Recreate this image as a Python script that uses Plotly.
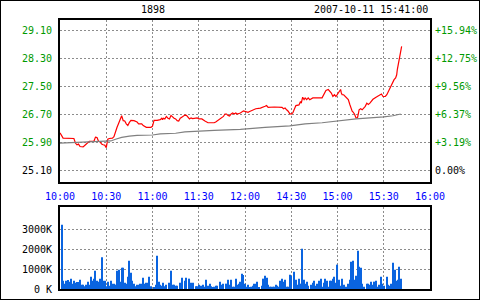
import plotly.graph_objects as go

# ---------------- data ----------------
base_price = 25.10

price_min = [0, 1, 2, 9, 10, 11, 12, 13, 14, 15, 16, 17, 18, 19, 22, 23, 24, 25, 26, 27, 28, 29, 30, 31, 32, 34, 35,
             36, 37, 38, 39, 40, 41, 42, 43, 44, 45, 46, 48, 49, 50, 51, 53, 54, 55, 56, 59, 60, 61, 62, 63, 65, 66,
             66.5, 67, 68, 69, 70, 71, 72, 73, 74, 75, 76, 77, 78, 79, 80, 81, 82, 83, 84, 85, 86, 89, 90, 92, 93,
             94, 96, 98, 99, 100, 101, 102, 103, 104, 105, 106, 107, 108, 109, 110, 111, 112, 113, 114, 115, 117,
             119, 121, 122, 123, 124, 125, 127, 130, 132, 133, 134, 135, 139, 141, 143, 144, 145, 146, 147, 148,
             149, 150, 151, 152, 153, 155, 156, 156.5, 157.4, 158.3, 159, 160, 161, 162, 163, 164, 170, 171, 172.5,
             174, 175, 176, 177, 178, 179, 180, 181, 182, 182.5, 183, 184, 185, 186, 187, 188, 189, 189.5, 190, 191,
             192, 193, 193.5, 194, 195, 196, 197, 198, 199, 200, 201, 203, 205, 206, 207, 208.5, 209.5, 211, 212,
             213, 214, 215, 216, 216.7, 217.7, 218.4, 218.8, 219.5, 220, 220.5, 221, 221.6]
price_val = [26.16, 26.10, 26.01, 26.00, 25.87, 25.82, 25.84, 25.77, 25.76, 25.76, 25.80, 25.84, 25.86, 25.92, 25.92,
             26.04, 26.03, 25.92, 25.90, 25.84, 25.82, 25.81, 25.74, 25.98, 26.00, 26.01, 26.05, 26.21, 26.32, 26.43,
             26.52, 26.65, 26.51, 26.50, 26.42, 26.37, 26.46, 26.52, 26.51, 26.49, 26.47, 26.42, 26.42, 26.37, 26.34,
             26.32, 26.32, 26.35, 26.52, 26.51, 26.52, 26.54, 26.58, 26.54, 26.58, 26.56, 26.63, 26.58, 26.56, 26.66,
             26.61, 26.58, 26.56, 26.51, 26.50, 26.58, 26.61, 26.63, 26.67, 26.66, 26.59, 26.56, 26.59, 26.57, 26.59,
             26.56, 26.56, 26.52, 26.50, 26.45, 26.45, 26.43, 26.45, 26.47, 26.50, 26.52, 26.56, 26.59, 26.63, 26.70,
             26.70, 26.66, 26.64, 26.70, 26.73, 26.70, 26.73, 26.70, 26.73, 26.79, 26.77, 26.75, 26.77, 26.79, 26.82,
             26.85, 26.87, 26.89, 26.92, 26.94, 26.89, 26.90, 26.89, 26.90, 26.89, 26.85, 26.87, 26.82, 26.78, 26.71,
             26.70, 26.73, 26.82, 26.94, 26.96, 27.06, 27.01, 27.18, 27.11, 27.16, 27.11, 27.16, 27.11, 27.13, 27.16,
             27.16, 27.25, 27.37, 27.40, 27.35, 27.30, 27.20, 27.25, 27.20, 27.27, 27.37, 27.40, 27.30, 27.25, 27.25,
             27.20, 27.16, 27.11, 26.97, 26.82, 26.78, 26.76, 26.70, 26.59, 26.60, 26.70, 26.82, 26.85, 26.82, 26.87,
             26.92, 27.01, 26.97, 27.01, 27.12, 27.18, 27.20, 27.23, 27.27, 27.20, 27.20, 27.25, 27.35, 27.40, 27.54,
             27.63, 27.68, 27.73, 27.82, 27.97, 28.11, 28.25, 28.30, 28.49, 28.63]

avg_min = [0, 10, 20, 30, 33, 36, 40, 45, 50, 60, 65, 75, 81, 100, 117, 133, 149, 159, 170, 192, 200, 210, 216, 221]
avg_val = [25.87, 25.89, 25.90, 25.91, 25.93, 25.98, 26.03, 26.07, 26.09, 26.10, 26.13, 26.15, 26.19, 26.23, 26.26,
           26.32, 26.36, 26.42, 26.45, 26.56, 26.58, 26.62, 26.65, 26.70]

vol_min = [1, 2, 3, 4, 5, 6, 7, 8, 9, 10, 11, 12, 13, 14, 15, 16, 17, 18, 19, 20, 21, 22, 23, 24, 25, 26, 27, 28, 29,
           30, 31, 32, 33, 34, 35, 36, 37, 38, 39, 40, 41, 42, 43, 44, 45, 46, 47, 48, 49, 50, 51, 52, 53, 54, 55, 56,
           57, 58, 59, 61, 62, 63, 64, 65, 66, 67, 68, 69, 71, 72, 73, 74, 75, 76, 78, 79, 81,
           82, 84, 85, 86, 88, 89, 90, 91, 92, 93, 94, 95, 96, 97, 98, 99, 100, 101, 102, 104, 105, 106, 108, 109,
           110, 111, 112, 113, 114, 115, 116, 117, 118, 119, 120, 121, 122, 123, 124, 125, 126, 127, 128, 129, 131,
           132, 133, 134, 135, 136, 137, 138, 139, 140, 141, 142, 143, 144, 145, 146, 147, 148, 149, 150, 152, 153,
           154, 155, 156, 157, 158, 159, 160, 161,
           163, 164, 165, 166, 167, 168, 169, 170, 171, 172, 173, 174, 175, 176, 177, 178, 179, 180, 181, 182, 183,
           184, 185, 186, 187, 188, 189, 190, 191, 192, 193, 194, 195, 196, 197, 199, 200, 201, 202, 203, 204, 205,
           206, 207, 208, 209, 210, 212, 213, 214, 215, 216, 217, 218, 219, 220, 221]
vol_k = [3217, 417, 267, 417, 450, 367, 517, 267, 417, 317, 350, 350, 467, 217, 217, 133, 217, 367, 217, 617, 417, 517,
         917, 417, 367, 517, 1583, 417, 417, 133, 367, 167, 417, 267, 267, 217, 917, 967, 367, 1067, 1067, 317, 267,
         617, 1417, 817, 417, 267, 133, 217, 217, 267, 267, 567, 267, 317, 317, 617, 133, 83, 217, 1667, 367, 217,
         167, 317, 133, 217, 317, 917, 217, 217, 167, 167, 317, 567, 417,
         567, 517, 317, 317, 133, 133, 217, 167, 167, 217, 117, 467, 167, 267, 133, 83, 117, 167, 167, 367, 217, 267,
         267, 467, 217, 467, 117, 117, 517, 217, 267, 367, 767, 700, 267, 117, 217, 83, 117, 167, 267, 267, 367, 83,
         167, 517, 667, 567, 217, 117, 117, 117, 117, 217, 167, 117, 417, 517, 367, 467, 117, 117, 717, 650, 867, 467,
         217, 517, 267, 2017, 467, 267, 367, 167,
         217, 317, 417, 167, 267, 417, 517, 117, 317, 517, 417, 117, 417, 417, 517, 617, 317, 1217, 467, 167, 517,
         217, 117, 117, 267, 467, 1367, 1417, 467, 667, 1917, 1117, 1067, 267, 117, 267, 267, 217, 367, 217, 367, 417,
         117, 217, 617, 267, 167, 617, 217, 167, 267, 1317, 967, 417, 467, 1117, 517]

price_ticks = [25.10, 25.90, 26.70, 27.50, 28.30, 29.10]
pct_labels = ["0.00%", "+3.19%", "+6.37%", "+9.56%", "+12.75%", "+15.94%"]
time_ticks = [0, 30, 60, 90, 120, 150, 180, 210, 240]
time_labels = ["10:00", "10:30", "11:00", "11:30", "12:00", "14:30", "15:00", "15:30", "16:00"]
vol_ticks = [0, 1000, 2000, 3000]
vol_labels = ["0 K", "1000K", "2000K", "3000K"]
title_code = "1898"
title_time = "2007-10-11 15:41:00"

# ---------------- styling ----------------
GREEN = "#009900"
FONT = "DejaVu Sans Mono"
GRID = "#8c8c8c"


def colored(labels, values):
    out = []
    for lab, v in zip(labels, values):
        c = "#000000" if abs(v - base_price) < 1e-9 else GREEN
        out.append('<span style="color:%s">%s</span>' % (c, lab))
    return out


left_labels = colored(["%.2f" % p for p in price_ticks], price_ticks)
right_labels = colored(pct_labels, price_ticks)

fig = go.Figure()
fig.add_trace(go.Scatter(x=price_min, y=price_val, mode="lines",
                         line=dict(color="#ff0000", width=1.2), xaxis="x", yaxis="y"))
fig.add_trace(go.Scatter(x=avg_min, y=avg_val, mode="lines",
                         line=dict(color="#808080", width=1.2), xaxis="x", yaxis="y3"))
fig.add_trace(go.Bar(x=vol_min, y=vol_k, width=0.7, marker=dict(color="#0a64e0", line=dict(width=0)),
                     xaxis="x2", yaxis="y2"))

pr = [base_price - 12 / 35.0, 29.10 + 10 / 35.0]
xdom = [60 / 480, 430 / 480]
common_x = dict(range=[0, 240], tickvals=time_ticks, showgrid=True, gridcolor=GRID, griddash="2px,2px",
                gridwidth=1, zeroline=False, showline=True, mirror=True, linecolor="black", linewidth=2,
                ticks="", automargin=False, domain=xdom)

fig.update_layout(
    width=480, height=300, margin=dict(l=0, r=0, t=0, b=0),
    paper_bgcolor="white", plot_bgcolor="white", showlegend=False,
    font=dict(family=FONT, size=10, color="black"),
    xaxis=dict(**common_x, anchor="y", ticktext=time_labels,
               tickfont=dict(color="#0000ff", size=10, family=FONT), ticklabelstandoff=4),
    xaxis2=dict(**common_x, anchor="y2", matches="x", showticklabels=False),
    yaxis=dict(domain=[1 - 182 / 300, 1 - 20 / 300], range=pr, tickvals=price_ticks, ticktext=left_labels,
               showgrid=True, gridcolor=GRID, griddash="2px,2px", zeroline=False, showline=True, mirror=True,
               linecolor="black", linewidth=2, ticks="", automargin=False, anchor="x",
               tickfont=dict(size=10, family=FONT), ticklabelstandoff=4),
    yaxis3=dict(overlaying="y", side="right", range=pr, tickvals=price_ticks, ticktext=right_labels,
                showgrid=False, zeroline=False, showline=False, ticks="", automargin=False, anchor="x",
                tickfont=dict(size=10, family=FONT), ticklabelstandoff=4),
    yaxis2=dict(domain=[1 - 289 / 300, 1 - 207 / 300], range=[0, 4100], tickvals=vol_ticks, ticktext=vol_labels,
                showgrid=True, gridcolor=GRID, griddash="2px,2px", zeroline=False, showline=True, mirror=True,
                linecolor="black", linewidth=2, ticks="", automargin=False, anchor="x2",
                tickfont=dict(size=10, family=FONT), ticklabelstandoff=4),
    annotations=[
        dict(text=title_code, x=153 / 480, y=1 - 10 / 300, xref="paper", yref="paper", showarrow=False,
             xanchor="center", yanchor="middle", font=dict(size=10, family=FONT, color="black")),
        dict(text=title_time, x=430 / 480, y=1 - 10 / 300, xref="paper", yref="paper", showarrow=False,
             xanchor="right", yanchor="middle", font=dict(size=10, family=FONT, color="black")),
    ],
    shapes=[dict(type="rect", xref="paper", yref="paper", x0=0, y0=0, x1=1, y1=1,
                 line=dict(color="black", width=2))],
)

fig.write_html("out.html")
